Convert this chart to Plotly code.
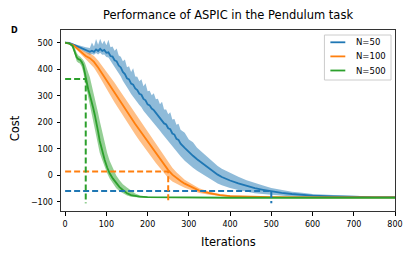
import plotly.graph_objects as go

# ---------------- data ----------------
series_names = ["N=50", "N=100", "N=500"]
colors = ["#1f77b4", "#ff7f0e", "#2ca02c"]
fill_colors = ["rgba(31,119,180,0.5)", "rgba(255,127,14,0.5)", "rgba(44,160,44,0.5)"]

blue_x = [0, 10, 20, 30, 40, 50, 60, 65, 70, 75, 80, 85, 90, 95, 100, 105, 110, 115, 120, 125,
          130, 135, 140, 145, 150, 155, 160, 165, 170, 175, 180, 185, 190, 195, 200, 205, 210, 215,
          220, 225, 230, 235, 240, 245, 250, 255, 260, 265, 270, 275, 280, 290, 300, 310, 320, 330,
          340, 350, 360, 370, 380, 390, 400, 420, 440, 460, 480, 500, 525, 550, 575, 600, 650, 700,
          750, 800]
blue_mean = [500, 499, 493, 486, 479, 472, 466, 470, 466, 475, 469, 477, 469, 473, 462, 464, 450, 448, 434, 430,
             414, 407, 390, 382, 366, 362, 346, 342, 328, 322, 308, 304, 288, 283, 268, 264, 252, 246,
             236, 230, 216, 210, 196, 192, 178, 174, 158, 154, 138, 134, 120, 104, 88, 74, 61, 49,
             37, 25, 13, 3, -6, -13, -19, -30, -40, -48, -54, -60, -66, -70, -73, -76, -79, -81,
             -82, -82]
blue_hi = [500, 500, 496, 491, 487, 483, 480, 501, 486, 514, 492, 515, 495, 508, 491, 511, 483, 486, 470, 478,
           452, 447, 430, 437, 408, 411, 390, 404, 373, 372, 355, 362, 336, 347, 317, 319, 302, 310,
           287, 289, 268, 278, 248, 248, 231, 238, 211, 213, 191, 195, 172, 161, 135, 125, 104, 90,
           76, 62, 48, 36, 25, 17, 9, -5, -18, -29, -38, -47, -55, -61, -65, -70, -74, -77,
           -79, -79]
blue_lo = [500, 498, 490, 481, 471, 462, 454, 458, 455, 461, 456, 462, 455, 456, 446, 444, 432, 424, 411, 400,
           386, 373, 357, 343, 330, 320, 307, 298, 287, 276, 265, 257, 244, 235, 223, 215, 206, 196,
           189, 179, 168, 158, 148, 140, 129, 121, 109, 101, 89, 81, 72, 55, 41, 29, 18, 8,
           -2, -12, -22, -30, -37, -43, -47, -55, -62, -67, -70, -73, -77, -79, -81, -82, -84, -85,
           -85, -85]

orange_x = [0, 10, 20, 30, 40, 50, 60, 70, 80, 90, 100, 110, 120, 130, 140, 150, 160, 170, 180, 190,
            200, 210, 220, 230, 240, 250, 260, 270, 280, 290, 300, 325, 350, 375, 400, 450, 500, 600,
            700, 800]
orange_mean = [500, 497, 490, 477, 462, 450, 442, 428, 407, 383, 360, 336, 312, 288, 264, 240, 216, 194, 172, 150,
               128, 106, 85, 64, 41, 20, 3, -10, -21, -31, -39, -57, -67, -74, -78, -81, -82, -83,
               -83, -83]
orange_hi = [500, 498, 493, 483, 472, 464, 460, 450, 433, 413, 393, 371, 349, 326, 303, 280, 256, 234, 212, 190,
             168, 145, 123, 100, 74, 50, 29, 12, -3, -16, -26, -48, -61, -70, -75, -79, -80, -81,
             -81, -81]
orange_lo = [500, 496, 487, 471, 452, 436, 424, 406, 381, 353, 327, 301, 275, 250, 225, 200, 176, 154, 132, 110,
             88, 67, 47, 28, 8, -10, -23, -32, -39, -46, -52, -66, -73, -78, -81, -83, -84, -85,
             -85, -85]

green_x = [0, 10, 18, 24, 28, 32, 36, 40, 44, 48, 52, 56, 60, 64, 68, 72, 76, 80, 84, 90,
           96, 102, 108, 116, 124, 132, 140, 150, 160, 170, 180, 200, 250, 300, 400, 500, 600, 700, 800]
green_mean = [500, 497, 488, 465, 445, 438, 436, 428, 415, 385, 350, 325, 303, 282, 255, 228, 200, 165, 130, 92,
              58, 30, 8, -12, -30, -44, -55, -67, -74, -78, -80, -82, -83, -83, -84, -84, -84, -84, -84]
green_hi = [500, 499, 493, 478, 462, 452, 448, 442, 435, 425, 410, 388, 370, 345, 320, 290, 262, 235, 205, 165,
            120, 85, 55, 25, 0, -18, -33, -45, -57, -68, -75, -80, -82, -82, -83, -83, -83, -83, -83]
green_lo = [500, 495, 483, 452, 430, 425, 422, 410, 390, 355, 320, 292, 265, 235, 205, 178, 150, 115, 85, 58,
            30, 8, -12, -30, -48, -60, -68, -76, -80, -82, -83, -85, -85, -85, -85, -85, -85, -85, -85]

# iteration N marks and the cost reached there
mark_iter = [500, 250, 50]
mark_cost = [-59, 15, 363]
mark_colors = ["#1f77b4", "#ff7f0e", "#2ca02c"]
mark_bottom = -105

x_ticks = [0, 100, 200, 300, 400, 500, 600, 700, 800]
y_ticks = [-100, 0, 100, 200, 300, 400, 500]

title_text = "Performance of ASPIC in the Pendulum task"
x_label = "Iterations"
y_label = "Cost"
panel_label = "D"

# ---------------- figure ----------------
FONT = "DejaVu Sans"
W, H = 415, 257
L, R, T, B = 61, 18, 30, 46

fig = go.Figure()

all_series = [
    (blue_x, blue_mean, blue_lo, blue_hi),
    (orange_x, orange_mean, orange_lo, orange_hi),
    (green_x, green_mean, green_lo, green_hi),
]
for i, (xs, m, lo, hi) in enumerate(all_series):
    fig.add_trace(go.Scatter(x=xs, y=lo, mode="lines", line=dict(width=0, color=colors[i]),
                             showlegend=False, hoverinfo="skip"))
    fig.add_trace(go.Scatter(x=xs, y=hi, mode="lines", line=dict(width=0, color=colors[i]),
                             fill="tonexty", fillcolor=fill_colors[i], showlegend=False, hoverinfo="skip"))
    fig.add_trace(go.Scatter(x=xs, y=m, mode="lines", line=dict(width=1.8, color=colors[i]),
                             name=series_names[i], showlegend=False))

for n, c, col in zip(mark_iter, mark_cost, mark_colors):
    fig.add_trace(go.Scatter(x=[0, n, n], y=[c, c, mark_bottom], mode="lines",
                             line=dict(width=2, color=col, dash="6px,3px"),
                             showlegend=False, hoverinfo="skip"))

# manual legend (matplotlib style box)
pw, ph = W - L - R, H - T - B
def px(xp):
    return (xp - L) / pw
def py(yp):
    return (H - B - yp) / ph

fig.add_shape(type="rect", xref="paper", yref="paper",
              x0=px(326), x1=px(393), y0=py(80), y1=py(35),
              line=dict(color="#cccccc", width=1), fillcolor="rgba(255,255,255,0.8)")
for k, (name, col) in enumerate(zip(series_names, colors)):
    yk = 42.3 + 14.1 * k
    fig.add_shape(type="line", xref="paper", yref="paper",
                  x0=px(332), x1=px(347), y0=py(yk), y1=py(yk),
                  line=dict(color=col, width=1.8))
    fig.add_annotation(xref="paper", yref="paper", x=px(356), y=py(yk), text=name,
                       showarrow=False, xanchor="left", yanchor="middle",
                       font=dict(family=FONT, size=8.5, color="black"))

fig.add_annotation(xref="paper", yref="paper", x=px(229), y=py(242), text=x_label,
                   showarrow=False, xanchor="center", yanchor="middle",
                   font=dict(family=FONT, size=11.5, color="black"))
fig.add_annotation(xref="paper", yref="paper", x=px(15), y=py(128), text=y_label,
                   showarrow=False, xanchor="center", yanchor="middle", textangle=-90,
                   font=dict(family=FONT, size=11.5, color="black"))
fig.add_annotation(xref="paper", yref="paper", x=px(14), y=py(31), text="<b>" + panel_label + "</b>",
                   showarrow=False, xanchor="center", yanchor="middle",
                   font=dict(family=FONT, size=8, color="black"))

fig.update_layout(
    width=W, height=H,
    margin=dict(l=L, r=R, t=T, b=B),
    paper_bgcolor="white", plot_bgcolor="white",
    title=dict(text=title_text, x=px(229), xref="paper", xanchor="center",
               y=1 - 15 / H, yanchor="middle",
               font=dict(family=FONT, size=11.5, color="black")),
    font=dict(family=FONT, color="black"),
    showlegend=False,
)
fig.update_xaxes(range=[-10, 800], tickvals=x_ticks, ticks="outside", ticklen=3.5, tickwidth=1,
                 tickcolor="black", showgrid=False, zeroline=False, showline=True,
                 linecolor="#333333", linewidth=1, mirror=True, ticklabelstandoff=2,
                 tickfont=dict(family=FONT, size=8, color="black"))
fig.update_yaxes(range=[-134, 548], tickvals=y_ticks, ticks="outside", ticklen=3.5, tickwidth=1,
                 tickcolor="black", showgrid=False, zeroline=False, showline=True,
                 linecolor="#333333", linewidth=1, mirror=True, ticklabelstandoff=2,
                 tickfont=dict(family=FONT, size=8, color="black"))

fig.write_html("out.html", config={"displayModeBar": False},
               post_script="document.body.style.margin='0';")
